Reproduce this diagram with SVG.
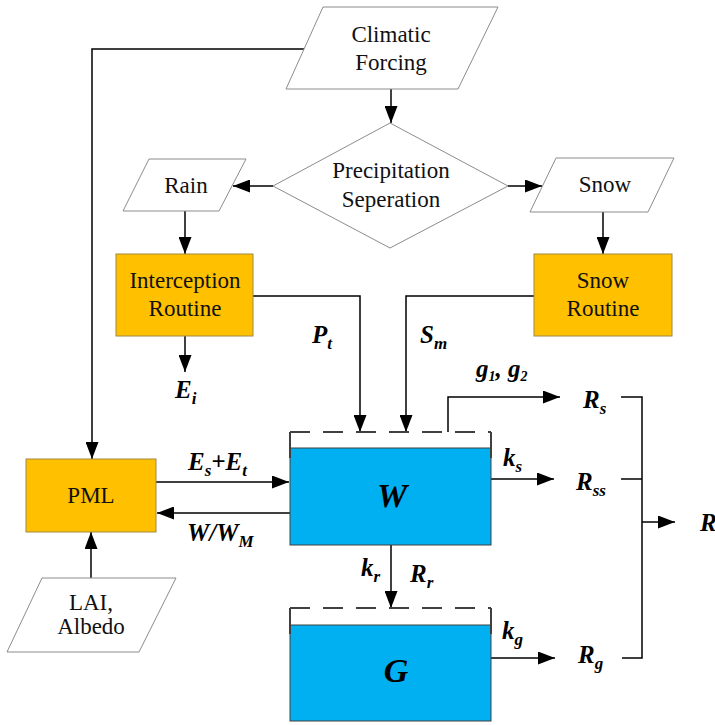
<svg xmlns="http://www.w3.org/2000/svg" width="715" height="725" viewBox="0 0 715 725">
<defs>
<style>
.io{fill:#fff;stroke:#8c8c8c;stroke-width:1}
.proc{fill:#FFC000;stroke:#a08a40;stroke-width:1}
.tank{fill:#00B0F0;stroke:#404040;stroke-width:1}
.wall{fill:none;stroke:#404040;stroke-width:2}
.dash{fill:none;stroke:#404040;stroke-width:2;stroke-dasharray:20 13}
.t{font-family:'Liberation Serif','Times New Roman',Times,serif;font-size:23px;fill:#111;text-anchor:middle}
.v{font-family:'Liberation Serif','Times New Roman',Times,serif;font-size:25px;font-weight:bold;font-style:italic;fill:#000}
.big{font-family:'Liberation Serif','Times New Roman',Times,serif;font-size:34px;font-weight:bold;font-style:italic;fill:#000;text-anchor:middle}
.c{fill:none;stroke:#000;stroke-width:1.5}
.a{marker-end:url(#ah)}
</style>
<marker id="ah" markerWidth="17" markerHeight="13" refX="17" refY="6.5" orient="auto" markerUnits="userSpaceOnUse">
<path d="M0,0 L17,6.5 L0,13 Z" fill="#000"/>
</marker>
</defs>
<rect width="715" height="725" fill="#fff"/>

<g id="connectors">
<path class="c a" d="M304,49 H92 V459"/>
<path class="c a" d="M391,89 V123"/>
<path class="c a" d="M273,186 H233"/>
<path class="c a" d="M508,186 H542"/>
<path class="c a" d="M185,211 V254"/>
<path class="c a" d="M603,212 V254"/>
<path class="c a" d="M253,296 H360 V432"/>
<path class="c a" d="M534,296 H406 V432"/>
<path class="c a" d="M185,336 V372"/>
<path class="c a" d="M156,482 H289"/>
<path class="c a" d="M290,513 H157"/>
<path class="c a" d="M91,578 V532"/>
<path class="c a" d="M448,432 V397 H560"/>
<path class="c a" d="M491,479 H554"/>
<path class="c a" d="M391,545 V608"/>
<path class="c a" d="M491,658 H555"/>
<path class="c" d="M621,397 H642 V658 H622"/>
<path class="c" d="M621,479 H642"/>
<path class="c a" d="M642,522 H675"/>
</g>

<g id="climatic">
<polygon class="io" points="323,7 498,7 458,89 286,89"/>
<text class="t" x="391" y="42">Climatic</text>
<text class="t" x="391" y="70">Forcing</text>
</g>

<g id="precip">
<polygon class="io" points="390,123 508,186 390,248 273,186"/>
<text class="t" x="391" y="178">Precipitation</text>
<text class="t" x="391" y="207">Seperation</text>
</g>

<g id="rain">
<polygon class="io" points="149,159 246,159 219,211 123,211"/>
<text class="t" x="186" y="193">Rain</text>
</g>

<g id="snow">
<polygon class="io" points="556,158 674,158 648,212 530,212"/>
<text class="t" x="605" y="192">Snow</text>
</g>

<g id="interception">
<rect class="proc" x="116" y="254" width="137" height="82"/>
<text class="t" x="185" y="288">Interception</text>
<text class="t" x="185" y="316">Routine</text>
</g>

<g id="snowroutine">
<rect class="proc" x="534" y="254" width="138" height="82"/>
<text class="t" x="603" y="288">Snow</text>
<text class="t" x="603" y="316">Routine</text>
</g>

<g id="pml">
<rect class="proc" x="26" y="459" width="130" height="73"/>
<text class="t" x="91" y="503">PML</text>
</g>

<g id="lai">
<polygon class="io" points="42,578 176,578 139,652 7,652"/>
<text class="t" x="91" y="610">LAI,</text>
<text class="t" x="91" y="634">Albedo</text>
</g>

<g id="w-tank">
<rect class="tank" x="290" y="448" width="201" height="97"/>
<path class="wall" d="M290,458 V432 M491,458 V432"/>
<path class="dash" d="M290,432 H491"/>
<text class="big" x="392" y="507">W</text>
</g>

<g id="g-tank">
<rect class="tank" x="290" y="625" width="201" height="96"/>
<path class="wall" d="M290,634 V608 M491,634 V608"/>
<path class="dash" d="M290,608 H491"/>
<text class="big" x="396" y="682">G</text>
</g>

<g id="labels">
<text class="v" x="312" y="343">P<tspan font-size="17" dy="6">t</tspan></text>
<text class="v" x="420" y="343">S<tspan font-size="17" dy="6">m</tspan></text>
<text class="v" x="175" y="398">E<tspan font-size="17" dy="6">i</tspan></text>
<text class="v" x="476" y="377" font-size="20">g<tspan font-size="14" dy="4">1</tspan><tspan dy="-4">, g</tspan><tspan font-size="14" dy="4">2</tspan></text>
<text class="v" x="583" y="408">R<tspan font-size="17" dy="6">s</tspan></text>
<text class="v" x="503" y="466">k<tspan font-size="17" dy="6">s</tspan></text>
<text class="v" x="576" y="490">R<tspan font-size="17" dy="6">ss</tspan></text>
<text class="v" x="700" y="531">R</text>
<text class="v" x="188" y="470">E<tspan font-size="17" dy="6">s</tspan><tspan dy="-6">+E</tspan><tspan font-size="17" dy="6">t</tspan></text>
<text class="v" x="187" y="541">W/W<tspan font-size="17" dy="6">M</tspan></text>
<text class="v" x="361" y="576">k<tspan font-size="17" dy="6">r</tspan></text>
<text class="v" x="410" y="582">R<tspan font-size="17" dy="6">r</tspan></text>
<text class="v" x="502" y="639">k<tspan font-size="17" dy="6">g</tspan></text>
<text class="v" x="578" y="663">R<tspan font-size="17" dy="6">g</tspan></text>
</g>
</svg>
